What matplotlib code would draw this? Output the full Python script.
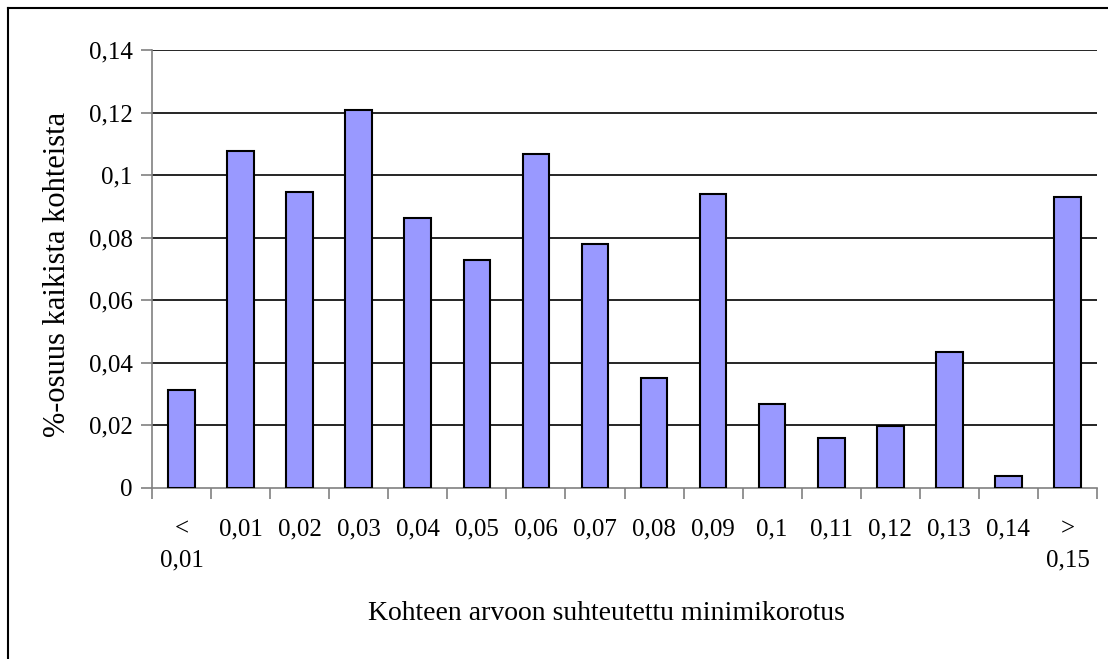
import matplotlib
matplotlib.use("Agg")
import matplotlib.pyplot as plt
from matplotlib.lines import Line2D
import numpy as np

categories = ["<\n0,01", "0,01", "0,02", "0,03", "0,04", "0,05", "0,06", "0,07",
              "0,08", "0,09", "0,1", "0,11", "0,12", "0,13", "0,14", ">\n0,15"]
values = [0.0313, 0.1078, 0.0945, 0.1207, 0.0862, 0.0728, 0.1066, 0.0779,
          0.0351, 0.0939, 0.0267, 0.0159, 0.0198, 0.0434, 0.0037, 0.0931]
y_ticks = [0, 0.02, 0.04, 0.06, 0.08, 0.1, 0.12, 0.14]
y_tick_labels = ["0", "0,02", "0,04", "0,06", "0,08", "0,1", "0,12", "0,14"]

plt.rcParams['font.family'] = ['Liberation Serif', 'DejaVu Serif']

W, H = 1108, 659
fig = plt.figure(figsize=(W / 100, H / 100), dpi=100)
ax = fig.add_axes([152 / W, 1 - 488 / H, (1097 - 152) / W, (488 - 50) / H])

x = np.arange(len(categories))
ax.bar(x, values, width=0.45, color="#9999FF", edgecolor="black", linewidth=1.5, zorder=3)

ax.set_xlim(-0.5, len(categories) - 0.5)
ax.set_ylim(0, 0.14)
ax.set_yticks(y_ticks)
ax.set_yticklabels(y_tick_labels, fontsize=18)
for yv in y_ticks[1:]:
    ax.axhline(yv, color="black", linewidth=1.2, zorder=1)

ax.set_xticks(x)
ax.set_xticklabels(categories, fontsize=18, linespacing=1.55, va="top")
ax.tick_params(axis="x", which="major", length=0, pad=22)
ax.set_xticks(np.arange(-0.5, len(categories), 1.0), minor=True)
ax.tick_params(axis="x", which="minor", length=8, color="#808080", width=1.2)
ax.tick_params(axis="y", length=8, color="#808080", width=1.2, pad=6)

for s in ["top", "right"]:
    ax.spines[s].set_visible(False)
for s in ["left", "bottom"]:
    ax.spines[s].set_color("#808080")
    ax.spines[s].set_linewidth(1.2)

fig.text(58 / W, 1 - 274 / H, "%-osuus kaikista kohteista", rotation=90,
         ha="center", va="center", fontsize=22)
fig.text(606 / W, 1 - 613 / H, "Kohteen arvoon suhteutettu minimikorotus",
         ha="center", va="center", fontsize=20)

# outer chart border (left and top visible)
fig.add_artist(Line2D([8 / W, 8 / W], [0, 1 - 8 / H], transform=fig.transFigure,
                      color="black", linewidth=1.5))
fig.add_artist(Line2D([8 / W, 1], [1 - 8 / H, 1 - 8 / H], transform=fig.transFigure,
                      color="black", linewidth=1.5))

fig.savefig("out.png", dpi=100)
